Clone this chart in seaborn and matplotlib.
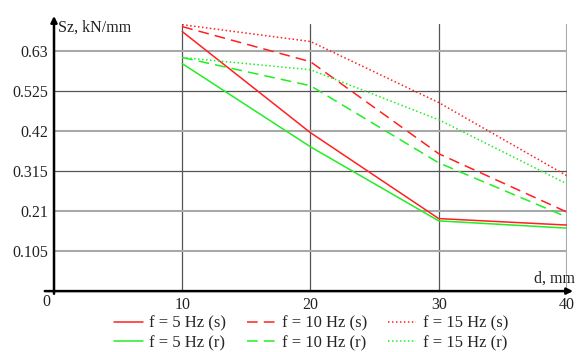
import matplotlib
matplotlib.use("Agg")
import matplotlib.pyplot as plt
import seaborn as sns
import pandas as pd

# Measurement points: gap d (mm) and stiffness Sz (kN/mm)
d_mm = [10, 20, 30, 40]
sz_5hz_s = [0.680, 0.415, 0.190, 0.173]
sz_5hz_r = [0.596, 0.378, 0.184, 0.165]
sz_10hz_s = [0.693, 0.601, 0.360, 0.207]
sz_10hz_r = [0.612, 0.538, 0.336, 0.194]
sz_15hz_s = [0.698, 0.654, 0.494, 0.302]
sz_15hz_r = [0.612, 0.580, 0.449, 0.281]

y_ticks = [0.105, 0.21, 0.315, 0.42, 0.525, 0.63]
y_tick_labels = ["0.105", "0.21", "0.315", "0.42", "0.525", "0.63"]
x_ticks = [10, 20, 30, 40]

series = [
    ("f = 5 Hz (s)", sz_5hz_s, "#ff2020", "-"),
    ("f = 5 Hz (r)", sz_5hz_r, "#22ee22", "-"),
    ("f = 10 Hz (s)", sz_10hz_s, "#ff2020", (0, (7, 4))),
    ("f = 10 Hz (r)", sz_10hz_r, "#22ee22", (0, (7, 4))),
    ("f = 15 Hz (s)", sz_15hz_s, "#ff2020", (0, (1, 1.6))),
    ("f = 15 Hz (r)", sz_15hz_r, "#22ee22", (0, (1, 1.6))),
]

sns.set_theme(style="white")
plt.rcParams["font.family"] = ["Liberation Serif", "DejaVu Serif"]

fig = plt.figure(figsize=(5.77, 3.52), dpi=100)
ax = fig.add_axes([0.0936, 0.173, 0.889, 0.759])

for label, vals, color, ls in series:
    df = pd.DataFrame({"d": d_mm, "sz": vals})
    sns.lineplot(data=df, x="d", y="sz", ax=ax, color=color, linestyle=ls,
                 linewidth=1.1, label=label, legend=False)

ax.set_xlim(0, 40)
ax.set_ylim(0, 0.70)
ax.set_xticks(x_ticks)
ax.set_xticklabels([str(v) for v in x_ticks])
ax.set_yticks(y_ticks)
ax.set_yticklabels(y_tick_labels)
ax.set_xlabel("")
ax.set_ylabel("")
ax.tick_params(axis="both", labelsize=11.5, colors="#222222", direction="inout",
               length=5, width=1.2, pad=2)
ax.tick_params(axis="x", pad=1.5)

# Grid: darker thin lines at 0.315 and 0.525, lighter thick ones elsewhere
ax.grid(True)
dark_y = {0.315, 0.525}
for val, gl in zip(y_ticks, ax.yaxis.get_gridlines()):
    if val in dark_y:
        gl.set_color("#555555"); gl.set_linewidth(0.9)
    else:
        gl.set_color("#a8a8a8"); gl.set_linewidth(1.5)
for i, gl in enumerate(ax.xaxis.get_gridlines()):
    if i == len(x_ticks) - 1:
        gl.set_color("#a8a8a8"); gl.set_linewidth(1.5)
    else:
        gl.set_color("#555555"); gl.set_linewidth(0.9)

for s in ax.spines.values():
    s.set_visible(False)

# Axis lines with arrowheads
ax.annotate("", xy=(1.012, 0), xytext=(-0.018, 0), xycoords="axes fraction",
            arrowprops=dict(arrowstyle="-|>", color="black", lw=1.8,
                            mutation_scale=9, shrinkA=0, shrinkB=0))
ax.annotate("", xy=(0, 1.03), xytext=(0, -0.01), xycoords="axes fraction",
            arrowprops=dict(arrowstyle="-|>", color="black", lw=1.8,
                            mutation_scale=9, shrinkA=0, shrinkB=0))

ax.text(-0.008, -0.012, "0", transform=ax.transAxes, ha="right", va="top",
        fontsize=11.5, color="#222222")
ax.text(0.008, 1.015, "Sz, kN/mm", transform=ax.transAxes, ha="left", va="top",
        fontsize=11.5, color="#222222")
ax.text(1.015, 0.015, "d, mm", transform=ax.transAxes, ha="right", va="bottom",
        fontsize=11.5, color="#222222")

handles, labels = ax.get_legend_handles_labels()
fig.legend(handles, labels, ncol=3, loc="lower left",
           bbox_to_anchor=(0.172, -0.04), frameon=False, fontsize=12,
           handlelength=1.7, handletextpad=0.4, columnspacing=1.25,
           labelspacing=0.2)

fig.savefig("out.png", dpi=100)
